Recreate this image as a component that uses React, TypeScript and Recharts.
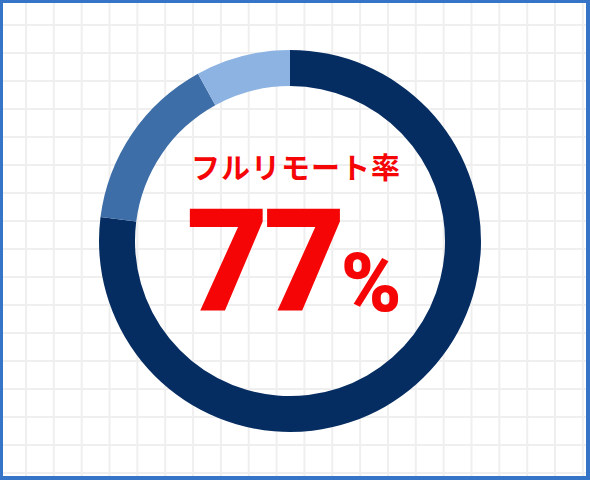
import React from "react";
import { PieChart, Pie, Cell, Label } from "recharts";

const categories = ["フルリモート", "一部出社", "出社"];
const values = [77, 15, 8];
const colors = ["#062d62", "#3e6ea7", "#8db3e3"];
const titleText = "フルリモート率";
const valueText = "77";
const unitText = "%";

const data = categories.map((name, i) => ({ name, value: values[i] }));

const gridBg =
  "linear-gradient(to right, #efefef 0, #efefef 2px, transparent 2px), linear-gradient(to bottom, #efefef 0, #efefef 2px, transparent 2px)";

const CenterText = (props: any) => {
  const vb = props.viewBox || {};
  const cx = vb.cx ?? 287;
  const cy = vb.cy ?? 238;
  return (
    <g>
      <text
        x={cx + 6}
        y={cy - 62}
        textAnchor="middle"
        fill="#f50505"
        fontFamily="'Noto Sans CJK JP', sans-serif"
        fontWeight={700}
        fontSize={29}
        letterSpacing={1}
      >
        {titleText}
      </text>
      <text
        x={cx + 4}
        y={cy + 70}
        textAnchor="middle"
        fill="#f50505"
        fontFamily="Roboto, 'Liberation Sans', sans-serif"
        fontWeight={900}
      >
        <tspan fontSize={142} letterSpacing={-5}>{valueText}</tspan>
        <tspan fontSize={82} dx={0}>{unitText}</tspan>
      </text>
    </g>
  );
};

export default function App() {
  return (
    <div
      style={{
        position: "fixed",
        left: 0,
        top: 0,
        width: 590,
        height: 480,
        boxSizing: "border-box",
        borderStyle: "solid",
        borderColor: "#3574c6",
        borderWidth: "3px 4px 4px 3px",
        backgroundColor: "#ffffff",
        backgroundImage: gridBg,
        backgroundSize: "27.85px 28px",
        backgroundPosition: "22px 21px",
      }}
    >
      <PieChart width={583} height={473} margin={{ top: 0, right: 0, bottom: 0, left: 0 }}>
        <Pie
          data={data}
          dataKey="value"
          nameKey="name"
          cx={287}
          cy={238}
          innerRadius={155}
          outerRadius={191}
          startAngle={90}
          endAngle={-270}
          stroke="none"
          isAnimationActive={false}
        >
          {data.map((d, i) => (
            <Cell key={d.name} fill={colors[i]} stroke="none" />
          ))}
          <Label position="center" content={CenterText} />
        </Pie>
      </PieChart>
    </div>
  );
}
